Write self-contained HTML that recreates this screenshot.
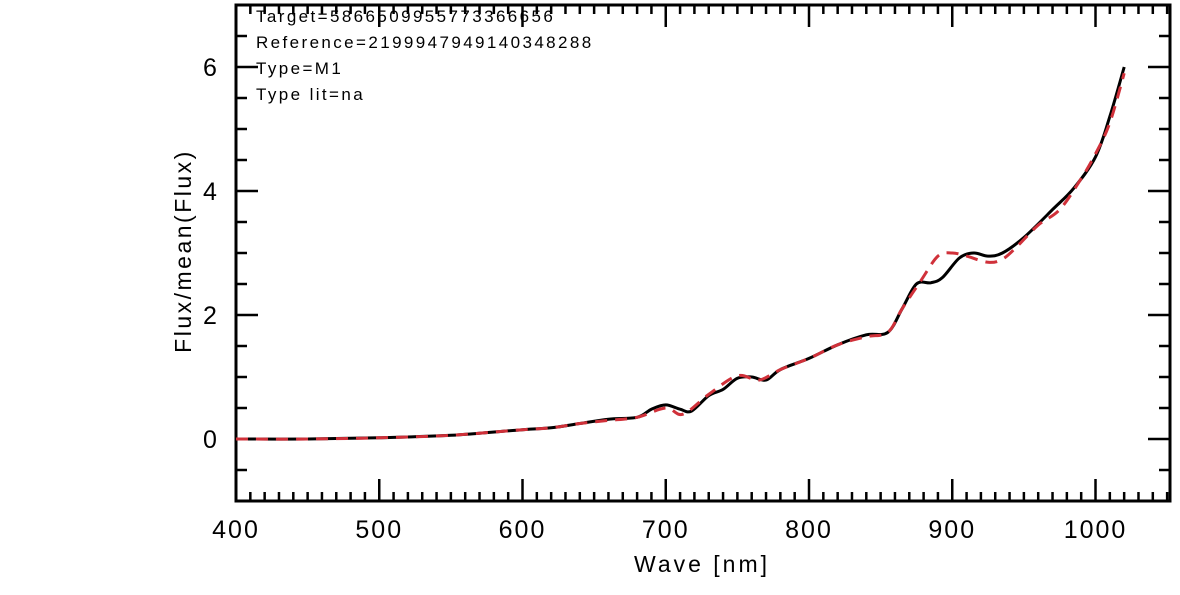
<!DOCTYPE html>
<html><head><meta charset="utf-8"><style>
body{margin:0;background:#fff}
svg text{font-family:"Liberation Sans",sans-serif;fill:#000}
</style></head><body>
<svg id="chart" width="1180" height="590" xmlns="http://www.w3.org/2000/svg"></svg>
<script>
const targetWave=[400,450,500,550,600,620,640,660,680,690,700,710,718,730,740,750,760,770,780,800,820,840,855,865,875,885,893,905,915,925,935,950,970,985,1000,1010,1020];
const targetFlux=[0,0,0.02,0.06,0.15,0.18,0.25,0.32,0.35,0.48,0.55,0.48,0.45,0.7,0.8,0.98,1.0,0.95,1.12,1.3,1.52,1.68,1.72,2.1,2.5,2.52,2.6,2.92,3.0,2.95,3.0,3.25,3.7,4.05,4.55,5.2,6.0];
const refWave=[400,450,500,550,600,620,640,660,680,700,712,730,750,765,780,800,820,840,855,865,878,890,900,910,925,935,945,960,975,990,1000,1010,1020];
const refFlux=[0,0,0.02,0.06,0.15,0.18,0.25,0.3,0.35,0.5,0.4,0.72,1.02,0.95,1.12,1.3,1.52,1.65,1.72,2.1,2.55,2.95,3.0,2.95,2.85,2.9,3.1,3.45,3.7,4.2,4.6,5.1,5.9];
const xTicks=[400,500,600,700,800,900,1000];
const yTicks=[0,2,4,6];
const annotations=["Target=5866509955773366656","Reference=2199947949140348288","Type=M1","Type lit=na"];

const X0=236,X1=1170,Y0=501,Y1=5,XMIN=400,XMAX=1052,YMIN=-1,YMAX=7;
const sx=v=>X0+(v-XMIN)/(XMAX-XMIN)*(X1-X0);
const sy=v=>Y0-(v-YMIN)/(YMAX-YMIN)*(Y0-Y1);
const svg=document.getElementById('chart');
const NS='http://www.w3.org/2000/svg';
function mk(t,a){const e=document.createElementNS(NS,t);for(const k in a)e.setAttribute(k,a[k]);svg.appendChild(e);return e;}

let fr=mk('rect',{x:X0,y:Y1,width:X1-X0,height:Y0-Y1,fill:'none',stroke:'#000','stroke-width':3});



for(let v=XMIN;v<=1050;v+=10){
  const major=v%100===0, L=major?22:9, x=sx(v);
  let t1=mk('line',{x1:x,x2:x,y1:Y0,y2:Y0-L,stroke:'#000','stroke-width':2.5});
  
  
  let t2=mk('line',{x1:x,x2:x,y1:Y1,y2:Y1+L,stroke:'#000','stroke-width':2.5});
  
  
}
xTicks.forEach(v=>{
  let t=mk('text',{x:sx(v),y:538,'font-size':25,'text-anchor':'middle','letter-spacing':'2'});t.textContent=v;
  
  
});
for(let v=-0.5;v<7;v+=0.5){
  const major=Math.abs(v%2)<1e-9, L=major?22:11, y=sy(v);
  let t1=mk('line',{x1:X0,x2:X0+L,y1:y,y2:y,stroke:'#000','stroke-width':2.5});
  
  
  let t2=mk('line',{x1:X1,x2:X1-L,y1:y,y2:y,stroke:'#000','stroke-width':2.5});
  
  
}
yTicks.forEach(v=>{
  let t=mk('text',{x:210,y:sy(v)+9,'font-size':25,'text-anchor':'middle'});t.textContent=v;
  
  
});
let xl=mk('text',{x:702,y:572,'font-size':23,'text-anchor':'middle','letter-spacing':'3'});xl.textContent='Wave [nm]';


let yl=mk('text',{x:0,y:0,'font-size':23,'text-anchor':'middle','letter-spacing':'2.5',transform:'translate(191,251) rotate(-90)'});yl.textContent='Flux/mean(Flux)';


annotations.forEach((s,i)=>{
  let t=mk('text',{x:256,y:22+i*26,'font-size':17,'letter-spacing':'2.4'});t.textContent=s;
  
  
});
function path(ws,fs){
  const p=ws.map((w,i)=>[sx(w),sy(fs[i])]);
  let d='M'+p[0][0].toFixed(1)+','+p[0][1].toFixed(1);
  for(let i=0;i<p.length-1;i++){
    const a=p[Math.max(0,i-1)],b=p[i],c=p[i+1],e=p[Math.min(p.length-1,i+2)];
    const c1=[b[0]+(c[0]-a[0])/6,b[1]+(c[1]-a[1])/6],c2=[c[0]-(e[0]-b[0])/6,c[1]-(e[1]-b[1])/6];
    d+=' C'+c1[0].toFixed(1)+','+c1[1].toFixed(1)+' '+c2[0].toFixed(1)+','+c2[1].toFixed(1)+' '+c[0].toFixed(1)+','+c[1].toFixed(1);
  }
  return d;
}
let lt=mk('path',{d:path(targetWave,targetFlux),fill:'none',stroke:'#000','stroke-width':3,'stroke-linejoin':'round'});


let lr=mk('path',{d:path(refWave,refFlux),fill:'none',stroke:'#d0313a','stroke-width':3,'stroke-dasharray':'12,8'});


</script>
</body></html>
